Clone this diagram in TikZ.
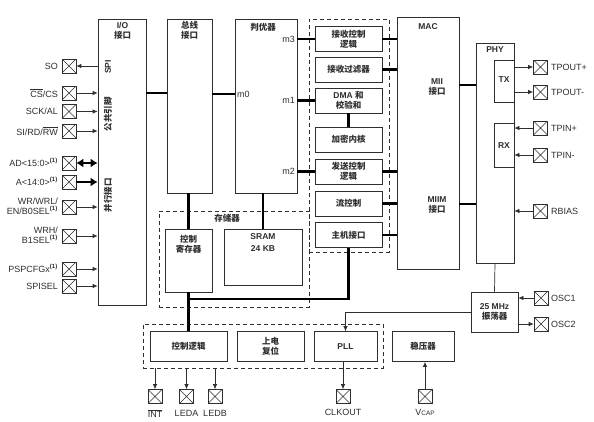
\documentclass[tikz,border=0pt]{standalone}
\usepackage{fontspec}
\setmainfont{Liberation Sans}
\newfontfamily\cjk{Noto Sans CJK SC}
\usetikzlibrary{arrows.meta}
\newcommand{\zh}[1]{{\cjk\bfseries #1}}
\newcommand{\supone}{\textsuperscript{\bfseries(1)}}
\definecolor{lc}{rgb}{0.18,0.18,0.18}
\begin{document}
\begin{tikzpicture}[x=1pt,y=-1pt,
  blk/.style={draw=lc, line width=0.7pt, inner sep=0pt, fill=white},
  txt/.style={font=\bfseries\fontsize{8.5}{10}\selectfont, align=center, inner sep=0pt, text=lc},
  mlbl/.style={font=\fontsize{9}{10}\selectfont, inner sep=0pt, text=lc},
  pinbox/.style={draw=lc, line width=0.6pt, minimum size=14pt, inner sep=0pt, fill=white,
    path picture={\draw[lc, line width=0.5pt] (path picture bounding box.south west) -- (path picture bounding box.north east)
      (path picture bounding box.north west) -- (path picture bounding box.south east);}},
  pinlbl/.style={font=\fontsize{9}{10}\selectfont, inner sep=0pt, text=lc},
  busline/.style={draw=black, line width=2.7pt},
  sig/.style={draw=lc, line width=0.7pt, -{Latex[length=5pt,width=4.5pt]}},
  dbox/.style={draw=lc, dash pattern=on 4pt off 3pt, line width=0.6pt, inner sep=0pt}
]
\useasboundingbox (0,0) rectangle (594,421);
\fill[white] (0,0) rectangle (594,421);

% helper coordinates
\coordinate (y93) at (0,93);
\coordinate (y94) at (0,94);
\coordinate (y85) at (0,85);
\coordinate (y204) at (0,204);
\coordinate (j) at (188.5,299);

% dashed groups
\node[dbox, minimum width=80pt, minimum height=233pt] (midgrp) at (349,135.5) {};
\node[dbox, minimum width=150pt, minimum height=96pt] (memgrp) at (234,259) {};
\node[dbox, minimum width=240pt, minimum height=44pt] (botgrp) at (263,346) {};

% main blocks
\node[blk, minimum width=48pt, minimum height=286pt] (io) at (122,162) {};
\node[blk, minimum width=45pt, minimum height=174pt] (bus) at (189.5,106) {};
\node[blk, minimum width=62pt, minimum height=174pt] (arb) at (266,106) {};
\node[blk, minimum width=62pt, minimum height=252pt] (mac) at (428,143) {};
\node[blk, minimum width=38pt, minimum height=220pt] (phy) at (495,153) {};
\node[blk, minimum width=20pt, minimum height=42pt] (tx) at (504,81) {};
\node[blk, minimum width=20pt, minimum height=44pt] (rx) at (504,145) {};

% inner blocks of middle group
\node[blk, minimum width=67pt, minimum height=25.5pt] (rcl) at (348.5,39) {};
\node[blk, minimum width=67pt, minimum height=25pt] (rf) at (348.5,69.5) {};
\node[blk, minimum width=67pt, minimum height=25pt] (dma) at (348.5,100.5) {};
\node[blk, minimum width=67pt, minimum height=25pt] (crypt) at (348.5,139.5) {};
\node[blk, minimum width=67pt, minimum height=25pt] (tcl) at (348.5,171.5) {};
\node[blk, minimum width=67pt, minimum height=25pt] (fc) at (348.5,203.5) {};
\node[blk, minimum width=67pt, minimum height=25.5pt] (hi) at (348.5,235) {};

% memory
\node[blk, minimum width=47pt, minimum height=63pt] (ctrlreg) at (188.5,260.5) {};
\node[blk, minimum width=78pt, minimum height=56pt] (sram) at (263,257) {};

% oscillator
\node[blk, minimum width=47pt, minimum height=40pt] (osc) at (494.5,312) {};

% bottom blocks
\node[blk, minimum width=77pt, minimum height=30pt] (ctrllogic) at (188.5,346.5) {};
\node[blk, minimum width=67pt, minimum height=30pt] (por) at (270.5,346.5) {};
\node[blk, minimum width=63pt, minimum height=30pt] (pll) at (345.5,346.5) {};
\node[blk, minimum width=62pt, minimum height=30pt] (vreg) at (423,346.5) {};

% texts
\node[txt] (tio) at (122.5,31) {I/O\\\zh{接口}};
\node[txt, rotate=90] (tspi) at (108,67) {SPI};
\node[txt, rotate=90] (tcom) at (108,114) {\zh{公共引脚}};
\node[txt, rotate=90] (tpar) at (108,195) {\zh{并行接口}};
\node[txt] (tbus) at (189.5,30) {\zh{总线}\\\zh{接口}};
\node[txt] (tarb) at (263,27) {\zh{判优器}};
\node[mlbl, anchor=east] (tm3) at (295,39) {m3};
\node[mlbl, anchor=west] (tm0) at (237,94) {m0};
\node[mlbl, anchor=east] (tm1) at (295,100) {m1};
\node[mlbl, anchor=east] (tm2) at (295,171) {m2};
\node[txt] (trcl) at (rcl) {\zh{接收控制}\\\zh{逻辑}};
\node[txt] (trf) at (rf) {\zh{接收过滤器}};
\node[txt] (tdma) at (dma) {DMA \zh{和}\\\zh{校验和}};
\node[txt] (tcrypt) at (crypt) {\zh{加密内核}};
\node[txt] (ttcl) at (tcl) {\zh{发送控制}\\\zh{逻辑}};
\node[txt] (tfc) at (fc) {\zh{流控制}};
\node[txt] (thi) at (hi) {\zh{主机接口}};
\node[txt] (tmem) at (227,218) {\zh{存储器}};
\node[txt] (tctrlreg) at (188.5,244) {\zh{控制}\\\zh{寄存器}};
\node[txt, font=\bfseries\fontsize{8.5}{12}\selectfont] (tsram) at (263,243) {SRAM\\24 KB};
\node[txt] (tmac) at (428,27) {MAC};
\node[txt] (tmii) at (437,87) {MII\\\zh{接口}};
\node[txt] (tmiim) at (437,205) {MIIM\\\zh{接口}};
\node[txt] (tphy) at (495,50) {PHY};
\node[txt] (ttx) at (504,80) {TX};
\node[txt] (trx) at (504,146) {RX};
\node[txt] (tosc) at (494.5,311.5) {25 MHz\\\zh{振荡器}};
\node[txt] (tctrllogic) at (ctrllogic) {\zh{控制逻辑}};
\node[txt] (tpor) at (por) {\zh{上电}\\\zh{复位}};
\node[txt] (tpll) at (pll) {PLL};
\node[txt] (tvreg) at (vreg) {\zh{稳压器}};

% left pins
\node[pinbox] (pSO) at (69,66) {};
\node[pinbox] (pCS) at (69,93) {};
\node[pinbox] (pSCK) at (69,111.5) {};
\node[pinbox] (pSI) at (69,131) {};
\node[pinbox] (pAD) at (69,163) {};
\node[pinbox] (pA) at (69,182) {};
\node[pinbox] (pWR) at (69,207) {};
\node[pinbox] (pWRH) at (69,236) {};
\node[pinbox] (pPSP) at (69,269) {};
\node[pinbox] (pSPIS) at (69,286) {};
\node[pinlbl, anchor=east] (lSO) at (58,66) {SO};
\node[pinlbl, anchor=east] (lCS) at (58,93) {$\overline{\mbox{CS}}$/CS};
\node[pinlbl, anchor=east] (lSCK) at (58,111.5) {SCK/AL};
\node[pinlbl, anchor=east] (lSI) at (58,131) {SI/RD/$\overline{\mbox{RW}}$};
\node[pinlbl, anchor=east] (lAD) at (58,162) {AD<15:0>\supone};
\node[pinlbl, anchor=east] (lA) at (58,181) {A<14:0>\supone};
\node[pinlbl, anchor=east, align=right] (lWR) at (58,206) {WR/WRL/\\EN/B0SEL\supone};
\node[pinlbl, anchor=east, align=right] (lWRH) at (58,235) {WRH/\\B1SEL\supone};
\node[pinlbl, anchor=east] (lPSP) at (58,268) {PSPCFGx\supone};
\node[pinlbl, anchor=east] (lSPIS) at (58,286) {SPISEL};

% right pins
\node[pinbox] (pTP1) at (540.5,67) {};
\node[pinbox] (pTP2) at (540.5,92) {};
\node[pinbox] (pTN1) at (540.5,128) {};
\node[pinbox] (pTN2) at (540.5,155) {};
\node[pinbox] (pRB) at (540.5,211) {};
\node[pinbox] (pOSC1) at (541,298) {};
\node[pinbox] (pOSC2) at (541,324) {};
\node[pinlbl, anchor=west] (lTP1) at (551,67) {TPOUT+};
\node[pinlbl, anchor=west] (lTP2) at (551,92) {TPOUT-};
\node[pinlbl, anchor=west] (lTN1) at (551,128) {TPIN+};
\node[pinlbl, anchor=west] (lTN2) at (551,155) {TPIN-};
\node[pinlbl, anchor=west] (lRB) at (551,211) {RBIAS};
\node[pinlbl, anchor=west] (lOSC1) at (551,298) {OSC1};
\node[pinlbl, anchor=west] (lOSC2) at (551,324) {OSC2};

% bottom pins
\node[pinbox] (pINT) at (155,396.5) {};
\node[pinbox] (pLEDA) at (186.5,396.5) {};
\node[pinbox] (pLEDB) at (215,396.5) {};
\node[pinbox] (pCLK) at (343,396.5) {};
\node[pinbox] (pVCAP) at (425,396.5) {};
\node[pinlbl] (lINT) at (155,413.5) {$\overline{\mbox{INT}}$};
\node[pinlbl] (lLEDA) at (186.5,413) {LEDA};
\node[pinlbl] (lLEDB) at (215,413) {LEDB};
\node[pinlbl] (lCLK) at (343,412.5) {CLKOUT};
\node[pinlbl] (lVCAP) at (425,412.5) {V{\fontsize{6.5}{7}\selectfont CAP}};

% ---- connectors: buses
\draw[busline] (io.east |- y93) -- (bus.west |- y93);
\draw[busline] (bus.east |- y94) -- (arb.west |- y94);
\draw[busline] (arb.east |- rcl) -- (rcl.west);
\draw[busline] (arb.east |- dma) -- (dma.west);
\draw[busline] (arb.east |- tcl) -- (tcl.west);
\draw[busline] (dma.south) -- (crypt.north);
\draw[busline] (rcl.east) -- (mac.west |- rcl);
\draw[busline] (rf.east) -- (mac.west |- rf);
\draw[busline] (tcl.east) -- (mac.west |- tcl);
\draw[busline] (fc.east) -- (mac.west |- fc);
\draw[busline] (hi.east) -- (mac.west |- hi);
\draw[busline] (mac.east |- y85) -- (phy.west |- y85);
\draw[busline] (mac.east |- y204) -- (phy.west |- y204);
\draw[busline] (ctrlreg.north |- bus.south) -- (ctrlreg.north);
\draw[busline] (sram.north |- arb.south) -- (sram.north);
\draw[busline, line join=miter] (hi.south) |- (j);
\draw[busline] (ctrlreg.south) -- (ctrllogic.north);

% ---- connectors: signals
\draw[sig] (io.west |- pSO) -- (pSO.east);
\draw[sig] (pCS.east) -- (io.west |- pCS);
\draw[sig] (pSCK.east) -- (io.west |- pSCK);
\draw[sig] (pSI.east) -- (io.west |- pSI);
\draw[draw=black, line width=2.6pt, {Latex[length=7pt,width=9pt]}-{Latex[length=7pt,width=9pt]}] (pAD.east) -- (io.west |- pAD);
\draw[draw=black, line width=2.6pt, -{Latex[length=7pt,width=9pt]}] (pA.east) -- (io.west |- pA);
\draw[sig] (pWR.east) -- (io.west |- pWR);
\draw[sig] (pWRH.east) -- (io.west |- pWRH);
\draw[sig] (pPSP.east) -- (io.west |- pPSP);
\draw[sig] (pSPIS.east) -- (io.west |- pSPIS);

\draw[sig] (phy.east |- pTP1) -- (pTP1.west);
\draw[sig] (phy.east |- pTP2) -- (pTP2.west);
\draw[sig] (pTN1.west) -- (phy.east |- pTN1);
\draw[sig] (pTN2.west) -- (phy.east |- pTN2);
\draw[sig] (pRB.west) -- (phy.east |- pRB);
\draw[sig] (pOSC1.west) -- (osc.east |- pOSC1);
\draw[sig] (osc.east |- pOSC2) -- (pOSC2.west);
\draw[draw=lc, line width=0.7pt] (phy.south) -- (osc.north);
\draw[sig] (osc.west) -| (pll.north);

\draw[sig] (pINT.north |- botgrp.south) -- (pINT.north);
\draw[sig] (pLEDA.north |- botgrp.south) -- (pLEDA.north);
\draw[sig] (pLEDB.north |- botgrp.south) -- (pLEDB.north);
\draw[sig] (pCLK.north |- pll.south) -- (pCLK.north);
\draw[sig] (pVCAP.north) -- (pVCAP.north |- vreg.south);
\end{tikzpicture}
\end{document}
